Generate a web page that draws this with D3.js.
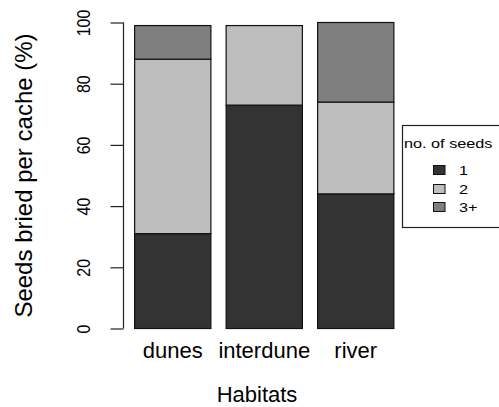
<!DOCTYPE html>
<html><head><meta charset="utf-8">
<script src="https://cdn.jsdelivr.net/npm/d3@7"></script>
<style>body{margin:0;background:#fff}svg{display:block}text{font-family:"Liberation Sans",Arial,sans-serif;fill:#000}</style>
</head><body>
<script>
const categories = ["dunes", "interdune", "river"];
const seriesNames = ["1", "2", "3+"];
const seeds1 = [31, 73, 44];
const seeds2 = [57, 26, 30];
const seeds3 = [11, 0, 26];
const yTicks = [0, 20, 40, 60, 80, 100];
const colors = ["#333333", "#bebebe", "#7f7f7f"];
const W = 499, H = 407;

const svg = d3.select("body").append("svg").attr("width", W).attr("height", H);
const data = categories.map((c, i) => ({cat: c, "1": seeds1[i], "2": seeds2[i], "3+": seeds3[i]}));
const stack = d3.stack().keys(seriesNames)(data);

const x = d3.scaleBand().domain(categories).range([126.5, 401]).paddingInner(0.2/1.2).paddingOuter(0.2/1.2*0.5);
const y = d3.scaleLinear().domain([0, 100]).range([328.5, 22.5]);

stack.forEach((s, k) => {
  svg.append("g").selectAll("rect").data(s).join("rect")
    .attr("x", d => x(d.data.cat) + 0.5)
    .attr("width", x.bandwidth())
    .attr("y", d => y(d[1]))
    .attr("height", d => y(d[0]) - y(d[1]))
    .attr("fill", colors[k])
    .attr("stroke", "#111").attr("stroke-width", 1.2)
    .attr("display", d => d[1] - d[0] > 0 ? null : "none");
});

const yAxis = svg.append("g").attr("transform", "translate(123.5,0)")
  .call(d3.axisLeft(y).tickValues(yTicks).tickSize(13).tickFormat(d3.format("d")));
yAxis.select(".domain").attr("d", `M-0,${y(0)}H0V${y(100)}H-0`).attr("stroke", "#222").attr("stroke-width", 1.2);
yAxis.selectAll(".tick line").attr("stroke", "#222").attr("stroke-width", 1.2);
yAxis.selectAll(".tick text")
  .attr("x", 0).attr("y", 0).attr("dy", null)
  .attr("transform", "translate(-34,0) rotate(-90) scale(1,1.2)")
  .attr("text-anchor", "middle")
  .style("font-size", "16px").style("font-family", "Liberation Sans, Arial, sans-serif").attr("fill", "#000");

const xAxis = svg.append("g").attr("transform", `translate(0.5,${358})`);
xAxis.selectAll("text").data(categories).join("text")
  .attr("x", d => x(d) + x.bandwidth()/2)
  .attr("text-anchor", "middle")
  .style("font-size", "22px")
  .text(d => d);

svg.append("text").attr("x", 257).attr("y", 402).attr("text-anchor", "middle")
  .style("font-size", "22px").text("Habitats");

svg.append("text").attr("transform", "translate(32,175.5) rotate(-90)").attr("text-anchor", "middle")
  .style("font-size", "24px").text("Seeds bried per cache (%)");

// legend
const lg = svg.append("g");
lg.append("rect").attr("x", 402.5).attr("y", 125.5).attr("width", 110).attr("height", 102)
  .attr("fill", "#fff").attr("stroke", "#222").attr("stroke-width", 1.2);
lg.append("text").attr("transform", "translate(404,148) scale(1.3,1)").style("font-size", "12.5px").text("no. of seeds");
const rowY = [170, 189, 207];
seriesNames.forEach((n, i) => {
  lg.append("rect").attr("x", 433.5).attr("y", rowY[i] - 4.5).attr("width", 11.5).attr("height", 9)
    .attr("fill", colors[i]).attr("stroke", "#111").attr("stroke-width", 1);
  lg.append("text").attr("transform", `translate(459,${rowY[i] + 4.5}) scale(1.3,1)`).style("font-size", "12.5px").text(n);
});
</script>
</body></html>
